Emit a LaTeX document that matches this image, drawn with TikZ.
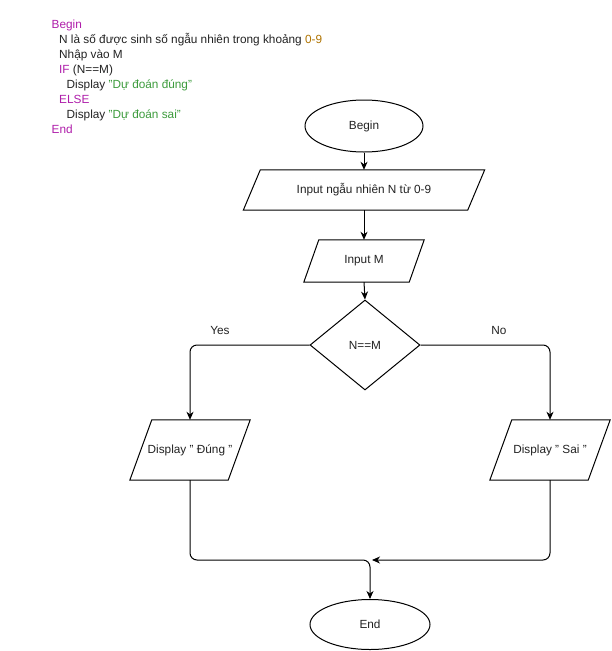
\documentclass[tikz,border=0pt]{standalone}
\usepackage{fontspec}
\setmainfont{Liberation Sans}
\usetikzlibrary{shapes.geometric,arrows.meta,calc}

\definecolor{kwcol}{RGB}{175,30,170}
\definecolor{strcol}{RGB}{60,155,60}
\definecolor{numcol}{RGB}{175,115,0}
\definecolor{txtcol}{RGB}{34,34,34}

\newcommand{\dq}{\symbol{34}}

\tikzset{
  every node/.style={font=\fontsize{11.8}{15}\selectfont, text=txtcol},
  code/.style={anchor=base west, inner sep=0pt},
  term/.style={draw, ellipse, line width=1pt, minimum width=118pt, minimum height=52pt, inner sep=0pt},
  decide/.style={draw, diamond, line width=1pt, minimum width=110pt, minimum height=90pt, inner sep=0pt},
  iobox/.style={inner sep=0pt},
  ioline/.style={line width=1pt, line join=miter},
  flow/.style={line width=1pt, -{Stealth[length=8pt,width=7pt,inset=2.5pt]}},
  lbl/.style={inner sep=0pt}
}

% parallelogram outline around a box node: #1 node, #2 skew
\newcommand{\paraout}[2]{%
  \draw[ioline] ($(#1.north west)+(#2,0)$) -- (#1.north east)
    -- ($(#1.south east)-(#2,0)$) -- (#1.south west) -- cycle;}

\begin{document}
\begin{tikzpicture}[x=1pt,y=-1pt]
\useasboundingbox (0,0) rectangle (611,651);

% pseudocode listing
\node[code, text=kwcol] (c1) at (51.5,28) {Begin};
\node[code] (c2) at (59,43) {N là số được sinh số ngẫu nhiên trong khoảng \textcolor{numcol}{0-9}};
\node[code] (c3) at (59,58) {Nhập vào M};
\node[code] (c4) at (59,73) {\textcolor{kwcol}{IF} (N==M)};
\node[code] (c5) at (66.5,88) {Display \textcolor{strcol}{\dq Dự đoán đúng\dq}};
\node[code, text=kwcol] (c6) at (59,103) {ELSE};
\node[code] (c7) at (66.5,118) {Display \textcolor{strcol}{\dq Dự đoán sai\dq}};
\node[code, text=kwcol] (c8) at (51.5,133) {End};

% flowchart nodes
\node[term] (begin) at (364,126) {Begin};
\node[iobox, minimum width=241pt, minimum height=40pt] (inN) at (364,190) {Input ngẫu nhiên N từ 0-9};
\node[iobox, minimum width=120pt, minimum height=42pt] (inM) at (364,261) {Input M};
\node[decide] (dec) at (365,345) {N==M};
\node[iobox, minimum width=120pt, minimum height=60pt] (yes) at (190,450) {Display \dq\ Đúng \dq};
\node[iobox, minimum width=120pt, minimum height=60pt] (no) at (550,450) {Display \dq\ Sai \dq};
\node[term, minimum width=120pt, minimum height=50pt] (end) at (370,624.5) {End};

\paraout{inN}{17}
\paraout{inM}{15}
\paraout{yes}{22}
\paraout{no}{22}

\node[lbl] (ly) at (220,330) {Yes};
\node[lbl] (ln) at (499,330) {No};

\coordinate (joinL) at (370,560);
\coordinate (joinR) at (372,560);

% connectors
\draw[flow] (begin.south) -- (inN.north);
\draw[flow] (inN.south) -- (inM.north);
\draw[flow] (inM.south) -- (dec.north);
\draw[flow, rounded corners=7pt] (dec.west) -| (yes.north);
\draw[flow, rounded corners=7pt] (dec.east) -| (no.north);
\draw[flow, rounded corners=7pt] (yes.south) |- (joinL) -- (end.north);
\draw[flow, rounded corners=7pt] (no.south) |- (joinR);
\end{tikzpicture}
\end{document}
